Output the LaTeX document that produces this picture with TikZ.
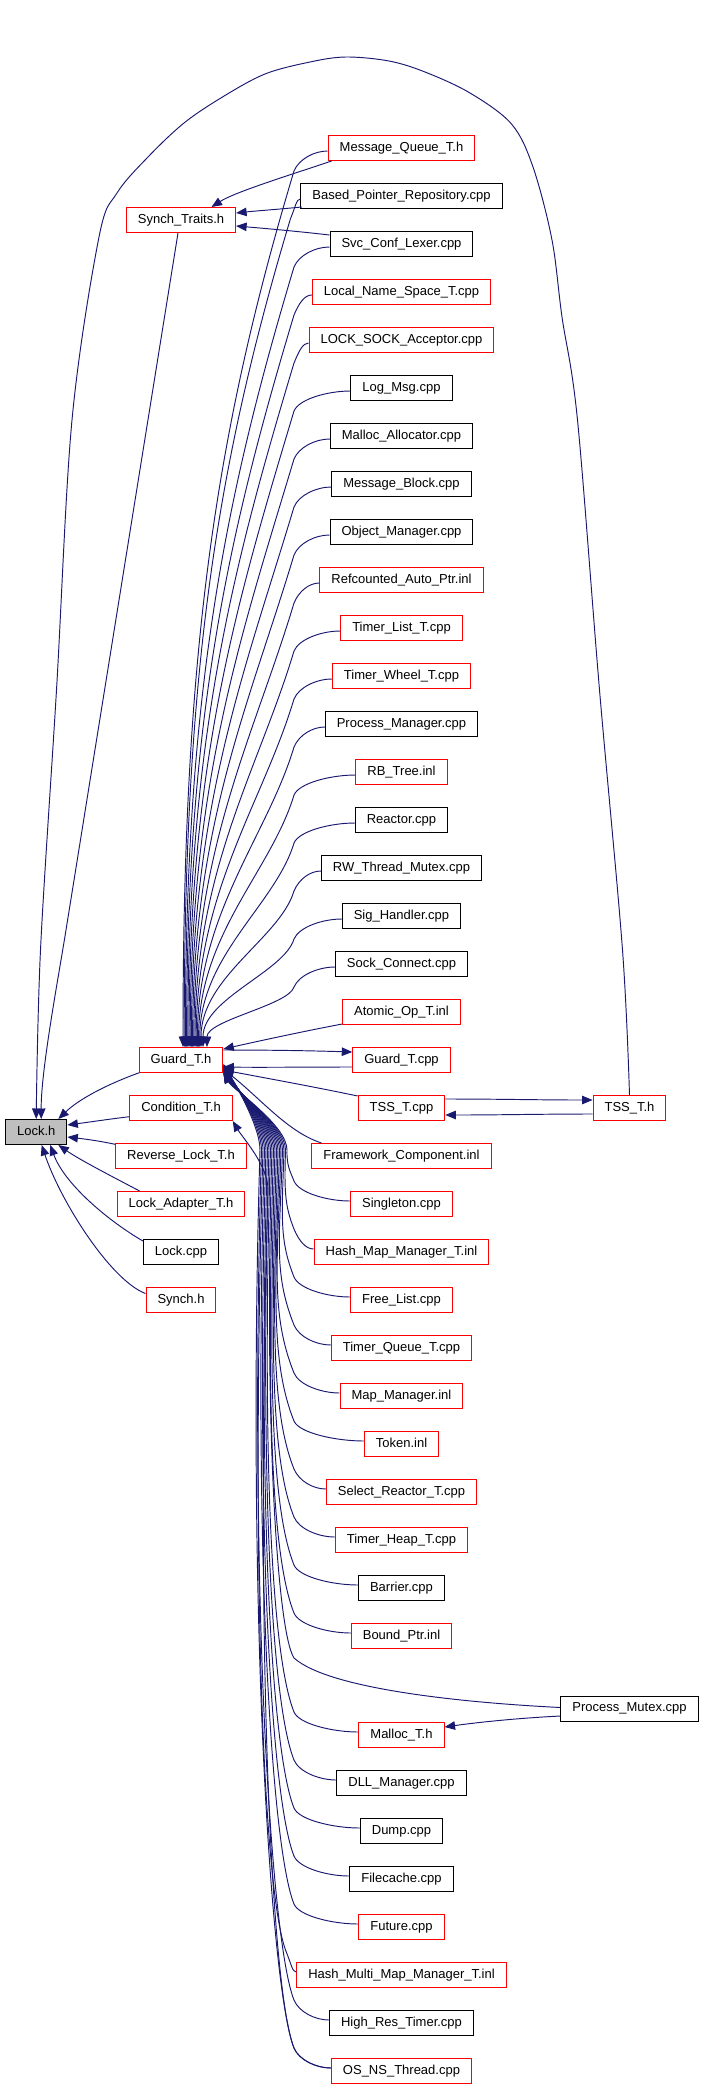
\documentclass[tikz,border=0pt]{standalone}
\usepackage{fontspec}
\setmainfont{Liberation Sans}
\usetikzlibrary{arrows.meta,calc}
\definecolor{mblue}{RGB}{25,25,112}
\definecolor{lockgray}{RGB}{191,191,191}
\newdimen\rsdimx
\newcommand\rsUp[3]{%
 \pgfextractx{\rsdimx}{\pgfpointanchor{#1}{west}}%
 \pgfmathsetmacro\rsTx{min(294,\rsdimx-10)}%
 \pgfmathsetmacro\rsK{0.4*(\rsdimx-\rsTx)}%
 \pgfmathsetmacro\rsTy{#2+23}%
 \pgfmathsetmacro\rsD{1047.5-\rsTy}%
 \pgfmathsetmacro\rsC{0.3*\rsD}%
 \pgfmathsetmacro\rsPax{\rsTx-0.3*\rsC}%
 \pgfmathsetmacro\rsPay{\rsTy+\rsC}%
 \pgfmathsetmacro\rsPby{1047.5-0.45*\rsD}%
 \pgfmathsetmacro\rsAx{\rsTx+5}%
 \pgfmathsetmacro\rsAy{\rsTy-12}%
 \draw[lnk] ($(#1.west)+(0,3)$) .. controls +(-\rsK,0) and (\rsAx,\rsAy) .. (\rsTx,\rsTy) .. controls (\rsPax,\rsPay) and (#3,\rsPby) .. (#3,0 |- gh.north);%
}
\newcommand\rsLo[6]{%
 \pgfextractx{\rsdimx}{\pgfpointanchor{#1}{west}}%
 \pgfmathsetmacro\rsTx{min(294,\rsdimx-10)}%
 \pgfmathsetmacro\rsK{0.4*(\rsdimx-\rsTx)}%
 \pgfmathsetmacro\rsTy{#2-23}%
 \pgfmathsetmacro\rsD{\rsTy-#4}%
 \pgfmathsetmacro\rsC{min(60,0.3*\rsD)}%
 \pgfmathsetmacro\rsPax{\rsTx-0.4*\rsC}%
 \pgfmathsetmacro\rsPay{\rsTy-\rsC}%
 \pgfmathsetmacro\rsPbx{#3-0.015*\rsD}%
 \pgfmathsetmacro\rsPby{#4+0.5*\rsD}%
 \pgfmathsetmacro\rsAx{\rsTx+5}%
 \pgfmathsetmacro\rsAy{\rsTy+12}%
 \pgfmathsetmacro\rsQy{#4-25}%
 \draw[lnk] ($(#1.west)+(0,-3)$) .. controls +(-\rsK,0) and (\rsAx,\rsAy) .. (\rsTx,\rsTy) .. controls (\rsPax,\rsPay) and (\rsPbx,\rsPby) .. (#3,#4) .. controls (#3,\rsQy) and ($(#5)+(#6)+(10,17)$) .. ($(#5)+(#6)$);%
}
\tikzset{
 bx/.style={rectangle, draw, line width=1pt, font=\fontsize{13}{15}\selectfont, inner xsep=11.5pt, inner ysep=0pt, minimum height=25pt, text height=9.4pt, text depth=2.8pt},
 rd/.style={bx, draw=red},
 bk/.style={bx, draw=black},
 lnk/.style={draw=mblue, line width=0.95pt, -{Triangle[length=10.5pt,width=8.5pt]}},
}
\begin{document}
\begin{tikzpicture}[x=1pt,y=-1pt]
\useasboundingbox (0,0) rectangle (701,2087);
% column 1
\node[bk, fill=lockgray] (lock) at (36.2,1132) {Lock.h};
% column 2
\node[rd] (st) at (181,220) {Synch\_Traits.h};
\node[rd] (gh) at (181,1060) {Guard\_T.h};
\node[rd] (cond) at (181,1108) {Condition\_T.h};
\node[rd] (rev) at (181,1156) {Reverse\_Lock\_T.h};
\node[rd] (lad) at (181,1204) {Lock\_Adapter\_T.h};
\node[bk] (lockcpp) at (181,1252) {Lock.cpp};
\node[rd] (synch) at (181,1300) {Synch.h};
% column 3
\node[rd] (mq) at (401.5,148) {Message\_Queue\_T.h};
\node[bk] (bpr) at (401.5,196) {Based\_Pointer\_Repository.cpp};
\node[bk] (svc) at (401.5,244) {Svc\_Conf\_Lexer.cpp};
\node[rd] (lns) at (401.5,292) {Local\_Name\_Space\_T.cpp};
\node[rd] (lsa) at (401.5,340) {LOCK\_SOCK\_Acceptor.cpp};
\node[bk] (logm) at (401.5,388) {Log\_Msg.cpp};
\node[bk] (malloca) at (401.5,436) {Malloc\_Allocator.cpp};
\node[bk] (mblk) at (401.5,484) {Message\_Block.cpp};
\node[bk] (objm) at (401.5,532) {Object\_Manager.cpp};
\node[rd] (rcap) at (401.5,580) {Refcounted\_Auto\_Ptr.inl};
\node[rd] (tlist) at (401.5,628) {Timer\_List\_T.cpp};
\node[rd] (twheel) at (401.5,676) {Timer\_Wheel\_T.cpp};
\node[bk] (procm) at (401.5,724) {Process\_Manager.cpp};
\node[rd] (rbt) at (401.5,772) {RB\_Tree.inl};
\node[bk] (reactor) at (401.5,820) {Reactor.cpp};
\node[bk] (rwm) at (401.5,868) {RW\_Thread\_Mutex.cpp};
\node[bk] (sigh) at (401.5,916) {Sig\_Handler.cpp};
\node[bk] (sockc) at (401.5,964) {Sock\_Connect.cpp};
\node[rd] (atomic) at (401.5,1012) {Atomic\_Op\_T.inl};
\node[rd] (gcpp) at (401.5,1060) {Guard\_T.cpp};
\node[rd] (tsscpp) at (401.5,1108) {TSS\_T.cpp};
\node[rd] (fw) at (401.5,1156) {Framework\_Component.inl};
\node[rd] (single) at (401.5,1204) {Singleton.cpp};
\node[rd] (hmm) at (401.5,1252) {Hash\_Map\_Manager\_T.inl};
\node[rd] (flist) at (401.5,1300) {Free\_List.cpp};
\node[rd] (tq) at (401.5,1348) {Timer\_Queue\_T.cpp};
\node[rd] (mapm) at (401.5,1396) {Map\_Manager.inl};
\node[rd] (token) at (401.5,1444) {Token.inl};
\node[rd] (srt) at (401.5,1492) {Select\_Reactor\_T.cpp};
\node[rd] (theap) at (401.5,1540) {Timer\_Heap\_T.cpp};
\node[bk] (barrier) at (401.5,1588) {Barrier.cpp};
\node[rd] (bptr) at (401.5,1636) {Bound\_Ptr.inl};
\node[rd] (mallt) at (401.5,1735) {Malloc\_T.h};
\node[bk] (dll) at (401.5,1783) {DLL\_Manager.cpp};
\node[bk] (dump) at (401.5,1831) {Dump.cpp};
\node[bk] (fcache) at (401.5,1879) {Filecache.cpp};
\node[rd] (future) at (401.5,1927) {Future.cpp};
\node[rd] (hmmm) at (401.5,1975) {Hash\_Multi\_Map\_Manager\_T.inl};
\node[bk] (hrt) at (401.5,2023) {High\_Res\_Timer.cpp};
\node[rd] (osns) at (401.5,2071) {OS\_NS\_Thread.cpp};
% column 4
\node[rd] (tssh) at (629.5,1108) {TSS\_T.h};
\node[bk] (pm) at (629.5,1708.5) {Process\_Mutex.cpp};

% big arc TSS_T.h -> Lock.h
\draw[lnk] plot[smooth, tension=0.55] coordinates {(tssh.north) (622.5,950) (599.5,690) (577.5,420) (562,317) (552,240) (533,167) (511.5,124) (470,93) (425,72) (389,61) (346,57) (310,62) (265,74) (222.5,97) (184,123) (148,157) (117,193) (99,237) (72,420) (56.5,690) (40.5,950) (lock.north)};

% Synch_Traits
\draw[lnk] ($(st.south)+(-3,0)$) -- (66,930) .. controls (58,980) and (41,1070) .. ($(lock.north)+(5,0)$);
\draw[lnk] ($(mq.south west)+(4,0)$) .. controls (290,175) and (235,192) .. ($(st.north)+(30.5,0)$);
\draw[lnk] ($(bpr.south west)+(1.5,-2)$) .. controls (270,210) and (255,211) .. ($(st.east)+(0,-7)$);
\draw[lnk] ($(svc.west)+(0,-9)$) .. controls (295,231) and (260,228) .. ($(st.east)+(0,6)$);

% into Lock.h
\draw[lnk] ($(gh.south west)+(0.7,-0.3)$) .. controls (105,1085) and (78,1100) .. ($(lock.north east)+(-9,0)$);
\draw[lnk] ($(cond.west)+(0,8.7)$) .. controls (110,1119) and (90,1122) .. ($(lock.east)+(0,-7)$);
\draw[lnk] ($(rev.west)+(0,-11.7)$) .. controls (100,1141) and (85,1139) .. ($(lock.east)+(0,5)$);
\draw[lnk] ($(lad.north west)+(23,0)$) .. controls (115,1178) and (80,1160) .. ($(lock.south east)+(-9,0)$);
\draw[lnk] ($(lockcpp.west)+(0,-11)$) .. controls (110,1222) and (65,1185) .. ($(lock.south)+(14,0)$);
\draw[lnk] ($(synch.west)+(0,-6.5)$) .. controls (110,1280) and (60,1200) .. ($(lock.south)+(5.5,0)$);

% upper nodes -> Guard_T.h
\rsUp{mq}{148}{183}
\rsUp{bpr}{196}{184.2}
\rsUp{svc}{244}{185.4}
\rsUp{lns}{292}{186.6}
\rsUp{lsa}{340}{187.8}
\rsUp{logm}{388}{189}
\rsUp{malloca}{436}{190.2}
\rsUp{mblk}{484}{191.4}
\rsUp{objm}{532}{192.6}
\rsUp{rcap}{580}{193.8}
\rsUp{tlist}{628}{195}
\rsUp{twheel}{676}{196.2}
\rsUp{procm}{724}{197.4}
\rsUp{rbt}{772}{198.6}
\rsUp{reactor}{820}{199.8}
\rsUp{rwm}{868}{201}
\rsUp{sigh}{916}{203}
\rsUp{sockc}{964}{207}
\draw[lnk] ($(atomic.south west)+(0,-1)$) .. controls (300,1032) and (250,1043) .. ($(gh.north east)+(0,2)$);

% Guard_T.h <-> Guard_T.cpp, TSS
\draw[lnk] ($(gh.north east)+(0,3)$) .. controls (280,1050) and (320,1051) .. ($(gcpp.west)+(0,-8)$);
\draw[lnk] ($(gcpp.west)+(0,7)$) .. controls (310,1067) and (260,1067.5) .. ($(gh.east)+(0,7)$);
\draw[lnk] ($(tsscpp.north west)+(0,1)$) .. controls (310,1086) and (260,1077) .. ($(gh.south east)+(0,-3)$);
\draw[lnk] ($(tsscpp.east)+(0,-9)$) .. controls (500,1099) and (540,1100) .. ($(tssh.west)+(0,-8)$);
\draw[lnk] ($(tssh.west)+(0,6)$) .. controls (540,1114) and (500,1115) .. ($(tsscpp.east)+(0,7)$);

% lower nodes -> Guard_T.h
\draw[lnk] ($(fw.north west)+(10,0)$) .. controls (288,1132) and (262,1100) .. ($(gh.south east)+(0,-4)$);
\rsLo{single}{1204}{287}{1150}{gh.south east}{0,0}
\rsLo{hmm}{1252}{285.5}{1150}{gh.south east}{0,-0.5}
\rsLo{flist}{1300}{284}{1150}{gh.south east}{0,-1}
\rsLo{tq}{1348}{282.5}{1150}{gh.south east}{0,-1.5}
\rsLo{mapm}{1396}{281}{1150}{gh.south east}{0,-2}
\rsLo{token}{1444}{279.5}{1150}{gh.south east}{0,-2.5}
\rsLo{srt}{1492}{278}{1150}{gh.south east}{0,-3}
\rsLo{theap}{1540}{276.5}{1150}{gh.south east}{0,-3.5}
\rsLo{barrier}{1588}{275}{1150}{gh.south east}{0,-4}
\rsLo{bptr}{1636}{273.5}{1150}{gh.south east}{0,-4.5}
\draw[lnk] ($(pm.west)+(0,-1)$) .. controls (470,1703) and (330,1690) .. (294,1658) .. controls (276,1630) and (264,1400) .. (272,1150) .. controls (272,1125) and ($(gh.south east)+(10,12)$) .. ($(gh.south east)+(0,-5)$);
\draw[lnk] ($(pm.west)+(0,7.5)$) .. controls (520,1718) and (480,1722) .. ($(mallt.east)+(0,-8)$);
\rsLo{mallt}{1735}{270.5}{1150}{gh.south east}{0,-5.5}
\rsLo{dll}{1783}{269}{1150}{gh.south east}{0,-6}
\rsLo{dump}{1831}{267.5}{1150}{gh.south east}{0,-6.5}
\rsLo{fcache}{1879}{266}{1150}{gh.south east}{0,-7}
\rsLo{future}{1927}{264.5}{1150}{gh.south east}{0,-7.5}
\rsLo{hmmm}{1975}{263}{1150}{gh.south east}{0,-8}
\rsLo{hrt}{2023}{261.5}{1150}{gh.south east}{0,-8.5}
\rsLo{osns}{2071}{260}{1150}{gh.south east}{0,-9}
\rsLo{osns}{2071}{268}{1190}{cond.south east}{0,0}
\end{tikzpicture}
\end{document}
